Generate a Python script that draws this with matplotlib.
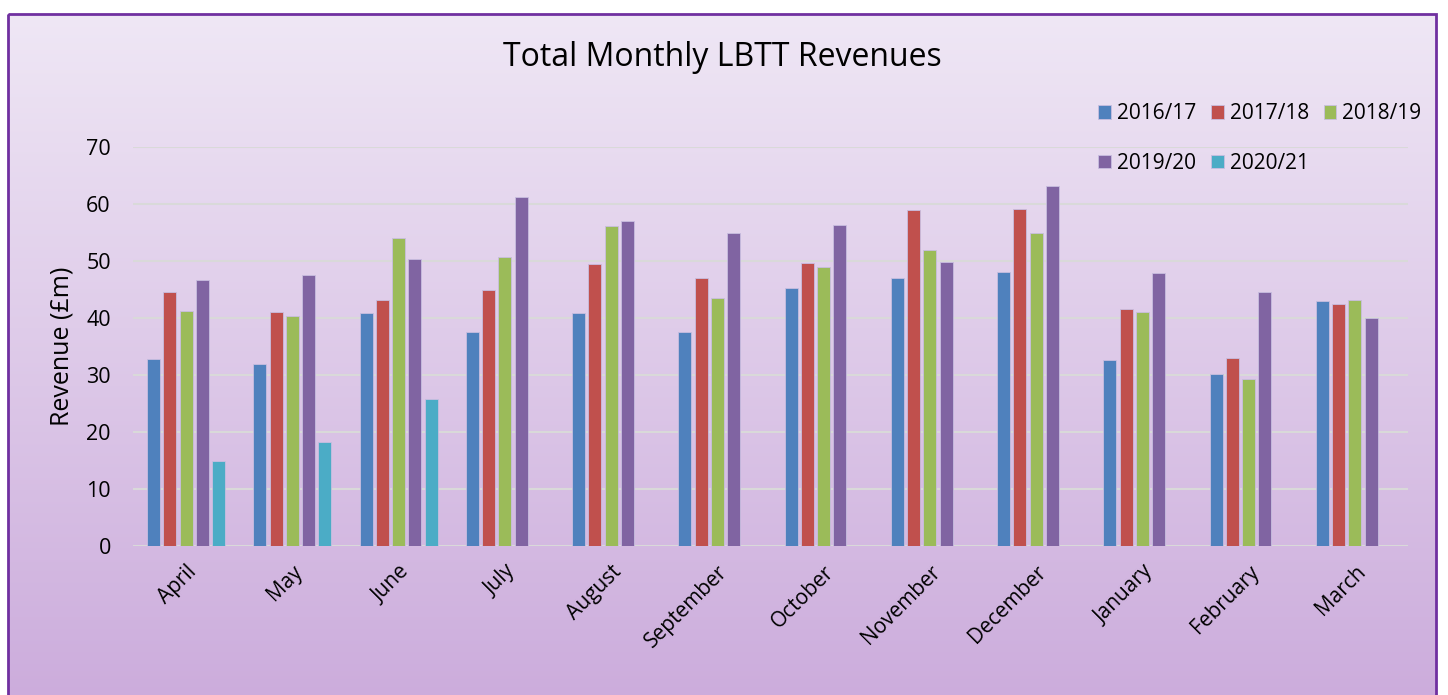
import numpy as np
import matplotlib
matplotlib.use("Agg")
from matplotlib import pyplot as plt
from matplotlib.patches import Rectangle

plt.rcParams['font.family'] = ['Open Sans', 'DejaVu Sans']

# Data (£m)
months = ['April', 'May', 'June', 'July', 'August', 'September', 'October',
          'November', 'December', 'January', 'February', 'March']
y2016_17 = [32.8, 31.9, 40.9, 37.6, 40.9, 37.6, 45.3, 47.0, 48.0, 32.7, 30.1, 42.9]
y2017_18 = [44.5, 41.0, 43.1, 45.0, 49.5, 47.0, 49.6, 58.9, 59.2, 41.6, 33.0, 42.4]
y2018_19 = [41.2, 40.3, 54.0, 50.7, 56.1, 43.5, 49.0, 51.9, 54.9, 41.0, 29.3, 43.1]
y2019_20 = [46.6, 47.5, 50.3, 61.3, 57.0, 55.0, 56.3, 49.9, 63.2, 47.9, 44.6, 40.0]
y2020_21 = [14.9, 18.2, 25.8]
series_names = ['2016/17', '2017/18', '2018/19', '2019/20', '2020/21']
colors = ['#4F81BD', '#C0504D', '#9BBB59', '#8064A2', '#4BACC6']

series = [y2016_17, y2017_18, y2018_19, y2019_20,
          y2020_21 + [np.nan] * (len(months) - len(y2020_21))]

fig = plt.figure(figsize=(14.48, 6.95), dpi=100)

# Gradient background panel with purple border
bg = fig.add_axes([0, 0, 1, 1], zorder=-10)
bg.set_xlim(0, 1448)
bg.set_ylim(695, 0)
bg.axis('off')
top = np.array([0xEF, 0xE7, 0xF5]) / 255
bot = np.array([0xCC, 0xAC, 0xDC]) / 255
t = np.linspace(0, 1, 256)[:, None, None]
grad = top + (bot - top) * t
bg.imshow(np.repeat(grad, 2, axis=1), extent=[8, 1436, 700, 14], aspect='auto')
bg.add_patch(Rectangle((8, 14), 1428, 690, fill=False, edgecolor='#7030A0', lw=2))

ax = fig.add_axes([133 / 1448, 1 - 546 / 695, 1275 / 1448, 399 / 695])
ax.set_facecolor('none')

x = np.arange(len(months))
slot = 0.153
width = 0.122
handles = []
for i, (vals, name, c) in enumerate(zip(series, series_names, colors)):
    b = ax.bar(x + (i - 2) * slot, vals, width, color=c, label=name,
               edgecolor='#C8BEE0', linewidth=0.6, zorder=3)
    handles.append(b)

ax.set_xlim(-0.5, len(months) - 0.5)
ax.set_ylim(0, 70)
ax.set_yticks(np.arange(0, 71, 10))
ax.yaxis.grid(True, color='#D9D9D9', lw=1.5, zorder=0)
for s in ax.spines.values():
    s.set_visible(False)
ax.tick_params(axis='y', length=0, labelsize=15.5, pad=16)
ax.tick_params(axis='x', length=0, labelsize=15, pad=11)
ax.set_xticks(x)
ax.set_xticklabels(months, rotation=45, ha='right', rotation_mode='anchor')
ax.set_ylabel('Revenue (£m)', fontsize=18, labelpad=8)

fig.text(722 / 1448, 1 - 58 / 695, 'Total Monthly LBTT Revenues', fontsize=23,
         ha='center', va='center')

order = [0, 3, 1, 4, 2]
ax.legend([handles[k] for k in order], [series_names[k] for k in order],
          ncol=3, loc='upper left', bbox_to_anchor=(1088 / 1448, 1 - 93 / 695),
          bbox_transform=fig.transFigure, frameon=False, fontsize=15,
          handlelength=0.6, handleheight=0.6, handletextpad=0.3,
          columnspacing=0.7, labelspacing=1.35, borderpad=0)

fig.savefig('out.png', dpi=100)
